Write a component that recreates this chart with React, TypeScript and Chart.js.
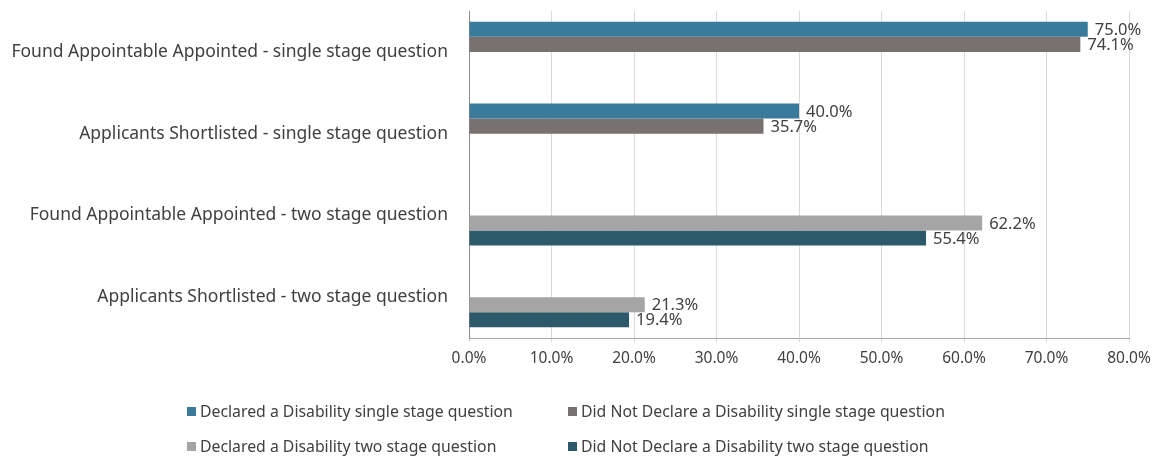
import React, { useEffect, useRef } from "react";
import { Chart, registerables } from "chart.js";

Chart.register(...registerables);

const categories = [
  "Found Appointable Appointed - single stage question",
  "Applicants Shortlisted - single stage question",
  "Found Appointable Appointed - two stage question",
  "Applicants Shortlisted - two stage question",
];

const seriesNames = [
  "Declared a Disability single stage question",
  "Did Not Declare a Disability single stage question",
  "Declared a Disability two stage question",
  "Did Not Declare a Disability two stage question",
];

const declaredSingle = [75.0, 40.0, null, null];
const notDeclaredSingle = [74.1, 35.7, null, null];
const declaredTwo = [null, null, 62.2, 21.3];
const notDeclaredTwo = [null, null, 55.4, 19.4];

const seriesColors = ["#3A7B9B", "#787170", "#A5A5A5", "#2C5A6A"];

const xTicks = [0, 10, 20, 30, 40, 50, 60, 70, 80];

const FONT = "'Noto Sans', 'Open Sans', sans-serif";
const TEXT = "#404040";

const dataLabelPlugin = {
  id: "dataLabels",
  afterDatasetsDraw(chart: any) {
    const ctx = chart.ctx;
    ctx.save();
    ctx.font = `16.5px ${FONT}`;
    ctx.fillStyle = TEXT;
    ctx.textAlign = "left";
    ctx.textBaseline = "middle";
    chart.data.datasets.forEach((ds: any, di: number) => {
      const meta = chart.getDatasetMeta(di);
      meta.data.forEach((el: any, i: number) => {
        const v = ds.data[i];
        if (v === null || v === undefined) return;
        ctx.fillText(v.toFixed(1) + "%", el.x + 7, el.y + 1);
      });
    });
    ctx.restore();
  },
};

export default function App() {
  const canvasRef = useRef<HTMLCanvasElement | null>(null);

  useEffect(() => {
    document.body.style.margin = "0";
    const canvas = canvasRef.current;
    if (!canvas) return;
    const seriesData = [declaredSingle, notDeclaredSingle, declaredTwo, notDeclaredTwo];
    const chart = new Chart(canvas, {
      type: "bar",
      data: {
        labels: categories,
        datasets: seriesNames.map((name, i) => ({
          label: name,
          data: seriesData[i] as any,
          backgroundColor: seriesColors[i],
          borderWidth: 0,
          categoryPercentage: 0.735,
          barPercentage: 1.0,
        })),
      },
      options: {
        indexAxis: "y",
        responsive: false,
        animation: false,
        devicePixelRatio: 1,
        layout: { padding: { top: 11, right: 30, bottom: 0, left: 0 } },
        plugins: {
          legend: { display: false },
          tooltip: { enabled: false },
        },
        scales: {
          x: {
            min: 0,
            max: 80,
            afterBuildTicks(scale: any) {
              scale.ticks = xTicks.map((v) => ({ value: v }));
            },
            afterFit(scale: any) {
              scale.height = 119;
              scale.paddingLeft = 0;
              scale.paddingRight = 0;
            },
            grid: {
              color: "#D9D9D9",
              lineWidth: 1,
              drawTicks: true,
              tickLength: 4,
            },
            border: { display: true, color: "#A6A6A6", width: 1 },
            ticks: {
              padding: 7,
              color: TEXT,
              font: { family: FONT, size: 15.5 },
              callback: (v: any) => Number(v).toFixed(1) + "%",
            },
          },
          y: {
            afterFit(scale: any) {
              scale.width = 469;
              scale.paddingTop = 0;
              scale.paddingBottom = 0;
            },
            grid: { display: false, drawTicks: false },
            border: { display: true, color: "#8C8C8C", width: 1 },
            ticks: {
              padding: 21,
              color: TEXT,
              font: { family: FONT, size: 17.5 },
            },
          },
        },
      },
      plugins: [dataLabelPlugin],
    });
    return () => chart.destroy();
  }, []);

  const legendItem = (i: number, left: number, top: number) => (
    <div
      key={i}
      style={{
        position: "absolute",
        left,
        top,
        display: "flex",
        alignItems: "center",
        whiteSpace: "nowrap",
        fontFamily: FONT,
        fontSize: 15.8,
        color: TEXT,
        lineHeight: "20px",
      }}
    >
      <span
        style={{
          display: "inline-block",
          width: 9,
          height: 9,
          background: seriesColors[i],
          marginRight: 4,
        }}
      />
      {seriesNames[i]}
    </div>
  );

  return (
    <div style={{ position: "fixed", left: 0, top: 0, width: 1159, height: 457, background: "#fff" }}>
      <canvas ref={canvasRef} width={1159} height={457} style={{ display: "block" }} />
      {legendItem(0, 187, 401)}
      {legendItem(1, 568, 401)}
      {legendItem(2, 187, 436)}
      {legendItem(3, 568, 436)}
    </div>
  );
}
